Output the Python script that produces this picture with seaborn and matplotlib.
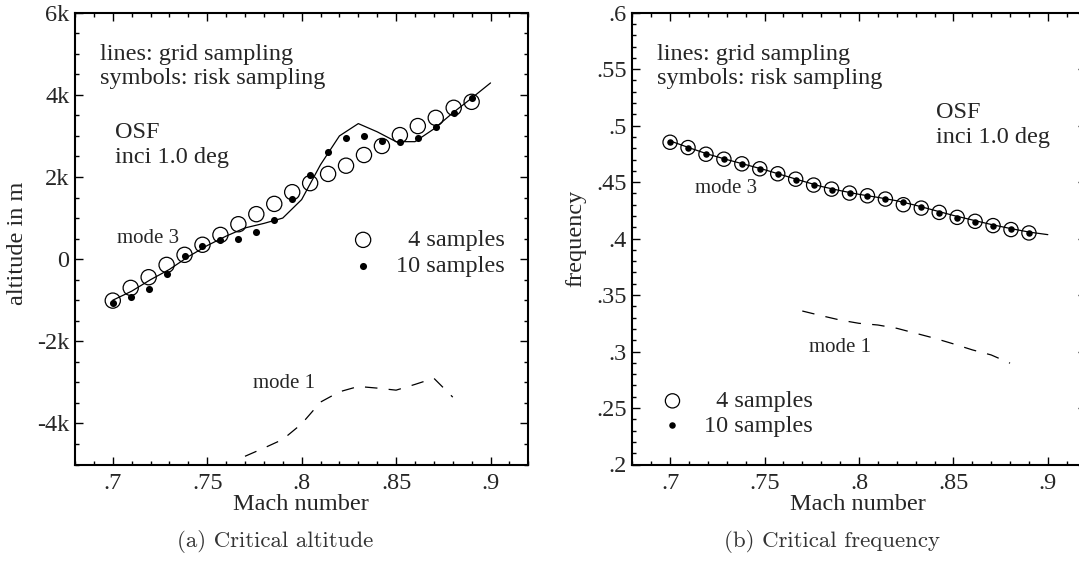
import matplotlib
matplotlib.use("Agg")
import matplotlib.pyplot as plt
from matplotlib.ticker import MultipleLocator, FixedLocator, FixedFormatter
import seaborn as sns

# ---------------- data ----------------
mach_risk = [0.700, 0.7095, 0.719, 0.7285, 0.738, 0.7475, 0.757, 0.7665, 0.776, 0.7855,
             0.795, 0.8045, 0.814, 0.8235, 0.833, 0.8425, 0.852, 0.8615, 0.871, 0.8805, 0.890]
mach_grid = [0.70, 0.71, 0.72, 0.73, 0.74, 0.75, 0.76, 0.77, 0.78, 0.79, 0.80,
             0.81, 0.82, 0.83, 0.84, 0.85, 0.86, 0.87, 0.88, 0.89, 0.90]
mach_mode1 = [0.77, 0.78, 0.79, 0.80, 0.81, 0.82, 0.83, 0.84, 0.85, 0.86, 0.87, 0.88]

alt_4 = [-1010, -700, -440, -140, 105, 350, 590, 850, 1095, 1345, 1630, 1850, 2075,
         2275, 2535, 2755, 3020, 3240, 3440, 3685, 3830]
alt_10 = [-1060, -910, -720, -360, 65, 310, 455, 500, 650, 955, 1460, 2050, 2600,
          2955, 3000, 2885, 2860, 2955, 3210, 3550, 3935]
alt_grid = [-1000, -780, -500, -250, 60, 330, 560, 760, 870, 1000, 1450, 2300, 3000,
            3300, 3100, 2860, 2860, 3170, 3560, 3920, 4290]
alt_mode1 = [-4800, -4600, -4390, -4010, -3480, -3230, -3100, -3140, -3190, -3050, -2900, -3360]

freq_4 = [0.4853, 0.4806, 0.4747, 0.4703, 0.4662, 0.4618, 0.4574, 0.4526, 0.4474, 0.4438,
          0.4403, 0.4379, 0.4350, 0.4300, 0.4270, 0.4232, 0.4188, 0.4153, 0.4115, 0.4080, 0.4050]
freq_10 = [0.4853, 0.4806, 0.4747, 0.4703, 0.4662, 0.4618, 0.4574, 0.4520, 0.4474, 0.4432,
           0.4403, 0.4379, 0.4350, 0.4324, 0.4280, 0.4226, 0.4182, 0.4147, 0.4115, 0.4085, 0.4050]
freq_grid = [0.4865, 0.4805, 0.4748, 0.4700, 0.4655, 0.4610, 0.4560, 0.4510, 0.4462, 0.4425,
             0.4392, 0.4365, 0.4335, 0.4295, 0.4250, 0.4205, 0.4165, 0.4125, 0.4090, 0.4058, 0.4035]
freq_mode1 = [0.3359, 0.3318, 0.3279, 0.3250, 0.3235, 0.3206, 0.3162, 0.3118, 0.3068,
              0.3015, 0.2970, 0.2897]

x_ticks = [0.70, 0.75, 0.80, 0.85, 0.90]
x_ticklabels = [".7", ".75", ".8", ".85", ".9"]
alt_ticks = [-4000, -2000, 0, 2000, 4000, 6000]
alt_ticklabels = ["-4k", "-2k", "0", "2k", "4k", "6k"]
freq_ticks = [0.20, 0.25, 0.30, 0.35, 0.40, 0.45, 0.50, 0.55, 0.60]
freq_ticklabels = [".2", ".25", ".3", ".35", ".4", ".45", ".5", ".55", ".6"]

label_4 = "\u20074 samples"
label_10 = "10 samples"

# ---------------- style ----------------
sns.set_style("ticks")
plt.rcParams["font.family"] = ["Liberation Serif", "DejaVu Serif"]
plt.rcParams["font.size"] = 17.5
plt.rcParams["axes.linewidth"] = 1.5

W, H = 1079, 562
fig = plt.figure(figsize=(W / 100, H / 100), dpi=100)
ax_w = 453.3 / W
ax_h = 451.8 / H
ax_b = 1 - 464.5 / H
ax1 = fig.add_axes([75 / W, ax_b, ax_w, ax_h])
ax2 = fig.add_axes([632.3 / W, ax_b, ax_w, ax_h])


def style_axes(ax, yticks, yticklabels, ymin, ymax, yminor):
    ax.set_xlim(0.68, 0.92)
    ax.set_ylim(ymin, ymax)
    ax.xaxis.set_major_locator(FixedLocator(x_ticks))
    ax.xaxis.set_major_formatter(FixedFormatter(x_ticklabels))
    ax.xaxis.set_minor_locator(MultipleLocator(0.01))
    ax.yaxis.set_major_locator(FixedLocator(yticks))
    ax.yaxis.set_major_formatter(FixedFormatter(yticklabels))
    ax.yaxis.set_minor_locator(MultipleLocator(yminor))
    ax.tick_params(which="both", direction="in", top=True, right=True,
                   labelsize=17.5, color="black", width=1.0)
    ax.tick_params(which="major", length=6, pad=4)
    ax.tick_params(which="minor", length=3)
    ax.tick_params(axis="x", which="major", pad=6)
    for sp in ax.spines.values():
        sp.set_visible(True)
        sp.set_linewidth(1.5)
        sp.set_color("black")
    ax.set_xlabel("")
    ax.set_ylabel("")
    ax.set_facecolor("white")


# ---------------- left panel ----------------
sns.lineplot(x=mach_grid, y=alt_grid, ax=ax1, color="black", lw=0.9,
             estimator=None, sort=False)
sns.lineplot(x=mach_mode1, y=alt_mode1, ax=ax1, color="black", lw=0.9,
             estimator=None, sort=False, linestyle=(0, (10, 9)))
sns.scatterplot(x=mach_risk, y=alt_4, ax=ax1, s=120, marker="o",
                facecolor="none", edgecolor="black", linewidth=0.9, label=label_4, zorder=3)
sns.scatterplot(x=mach_risk, y=alt_10, ax=ax1, s=26, marker="o",
                color="black", edgecolor="black", linewidth=0, label=label_10, zorder=4)
style_axes(ax1, alt_ticks, alt_ticklabels, -5000, 6000, 500)

ax1.text(0.6931, 4840, "lines: grid sampling", ha="left", va="baseline")
ax1.text(0.6931, 4260, "symbols: risk sampling", ha="left", va="baseline")
ax1.text(0.7013, 2940, "OSF", ha="left", va="baseline")
ax1.text(0.7013, 2333, "inci 1.0 deg", ha="left", va="baseline")
ax1.text(0.7022, 405, "mode 3", ha="left", va="baseline", fontsize=15)
ax1.text(0.7742, -3145, "mode 1", ha="left", va="baseline", fontsize=15)
ax1.legend(loc="center left", bbox_to_anchor=(0.582, 0.468), frameon=False,
           handlelength=1.0, handletextpad=0.86, labelspacing=0.15, borderpad=0,
           fontsize=17.5)

# ---------------- right panel ----------------
sns.lineplot(x=mach_grid, y=freq_grid, ax=ax2, color="black", lw=0.9,
             estimator=None, sort=False)
sns.lineplot(x=mach_mode1, y=freq_mode1, ax=ax2, color="black", lw=0.9,
             estimator=None, sort=False, linestyle=(0, (10, 9)))
sns.scatterplot(x=mach_risk, y=freq_4, ax=ax2, s=105, marker="o",
                facecolor="none", edgecolor="black", linewidth=0.9, label=label_4, zorder=3)
sns.scatterplot(x=mach_risk, y=freq_10, ax=ax2, s=22, marker="o",
                color="black", edgecolor="black", linewidth=0, label=label_10, zorder=4)
style_axes(ax2, freq_ticks, freq_ticklabels, 0.2, 0.6, 0.01)

ax2.text(0.6931, 0.558, "lines: grid sampling", ha="left", va="baseline")
ax2.text(0.6931, 0.5368, "symbols: risk sampling", ha="left", va="baseline")
ax2.text(0.8407, 0.5065, "OSF", ha="left", va="baseline")
ax2.text(0.8407, 0.4844, "inci 1.0 deg", ha="left", va="baseline")
ax2.text(0.7131, 0.4403, "mode 3", ha="left", va="baseline", fontsize=15)
ax2.text(0.7733, 0.300, "mode 1", ha="left", va="baseline", fontsize=15)
ax2.legend(loc="center left", bbox_to_anchor=(0.035, 0.113), frameon=False,
           handlelength=1.0, handletextpad=0.81, labelspacing=0.1, borderpad=0,
           fontsize=17.5)

# ---------------- axis labels and captions ----------------
fig.text(18 / W, 1 - 243 / H, "altitude in m", rotation=90, ha="center", va="center",
         fontsize=17.5)
fig.text(576 / W, 1 - 238 / H, "frequency", rotation=90, ha="center", va="center",
         fontsize=17.5)
fig.text(301 / W, 1 - 510 / H, "Mach number", ha="center", va="baseline", fontsize=17.5)
fig.text(858 / W, 1 - 510 / H, "Mach number", ha="center", va="baseline", fontsize=17.5)
fig.text(275 / W, 1 - 547 / H, "(a) Critical altitude", ha="center", va="baseline",
         family=["cmr10", "DejaVu Serif"], fontsize=16.5, color="#333333")
fig.text(832 / W, 1 - 547 / H, "(b) Critical frequency", ha="center", va="baseline",
         family=["cmr10", "DejaVu Serif"], fontsize=16.5, color="#333333")

fig.savefig("out.png", dpi=100, facecolor="white")
